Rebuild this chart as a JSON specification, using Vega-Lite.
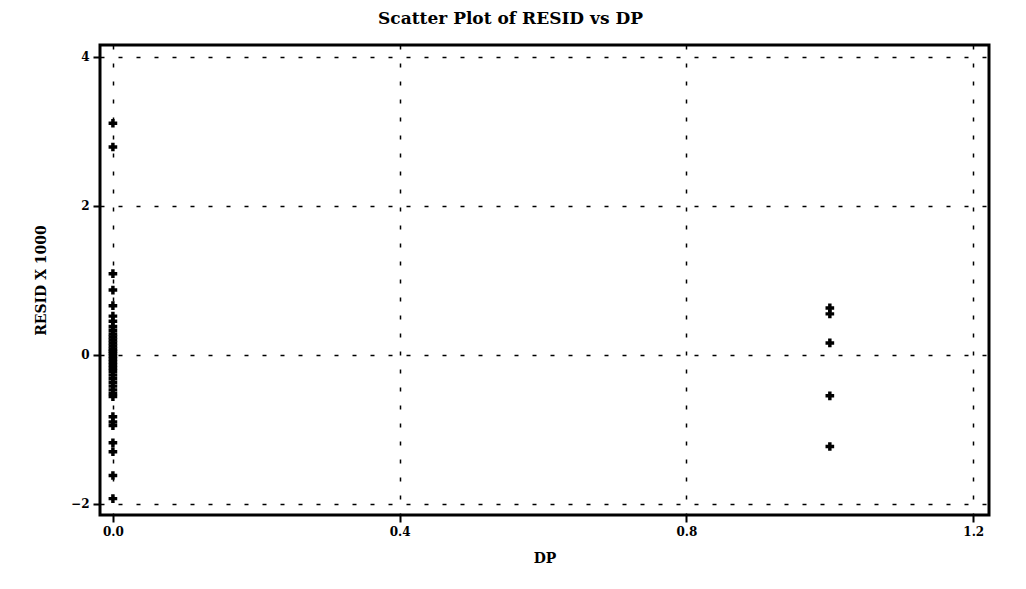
{
  "$schema": "https://vega.github.io/schema/vega-lite/v6.json",
  "width": 889,
  "height": 470,
  "autosize": {"type": "none"},
  "padding": {"left": 100, "top": 45, "right": 37, "bottom": 74},
  "background": "white",
  "title": {
    "text": "Scatter Plot of RESID vs DP",
    "font": "DejaVu Serif",
    "fontSize": 17,
    "fontWeight": "bold",
    "color": "black",
    "anchor": "middle",
    "dx": -34,
    "offset": 17
  },
  "data": {
    "values": [
      {"DP": 0, "RESID": 3.11},
      {"DP": 0, "RESID": 2.79},
      {"DP": 0, "RESID": 1.09},
      {"DP": 0, "RESID": 0.87},
      {"DP": 0, "RESID": 0.66},
      {"DP": 0, "RESID": 0.52},
      {"DP": 0, "RESID": 0.45},
      {"DP": 0, "RESID": 0.38},
      {"DP": 0, "RESID": 0.33},
      {"DP": 0, "RESID": 0.28},
      {"DP": 0, "RESID": 0.24},
      {"DP": 0, "RESID": 0.2},
      {"DP": 0, "RESID": 0.16},
      {"DP": 0, "RESID": 0.12},
      {"DP": 0, "RESID": 0.08},
      {"DP": 0, "RESID": 0.05},
      {"DP": 0, "RESID": 0.02},
      {"DP": 0, "RESID": -0.02},
      {"DP": 0, "RESID": -0.06},
      {"DP": 0, "RESID": -0.1},
      {"DP": 0, "RESID": -0.14},
      {"DP": 0, "RESID": -0.18},
      {"DP": 0, "RESID": -0.22},
      {"DP": 0, "RESID": -0.27},
      {"DP": 0, "RESID": -0.32},
      {"DP": 0, "RESID": -0.37},
      {"DP": 0, "RESID": -0.42},
      {"DP": 0, "RESID": -0.47},
      {"DP": 0, "RESID": -0.52},
      {"DP": 0, "RESID": -0.56},
      {"DP": 0, "RESID": -0.83},
      {"DP": 0, "RESID": -0.9},
      {"DP": 0, "RESID": -0.95},
      {"DP": 0, "RESID": -1.18},
      {"DP": 0, "RESID": -1.3},
      {"DP": 0, "RESID": -1.62},
      {"DP": 0, "RESID": -1.93},
      {"DP": 1, "RESID": 0.63},
      {"DP": 1, "RESID": 0.55},
      {"DP": 1, "RESID": 0.16},
      {"DP": 1, "RESID": -0.55},
      {"DP": 1, "RESID": -1.23}
    ]
  },
  "mark": {"type": "point", "shape": "cross", "filled": true, "color": "black", "size": 75, "opacity": 1},
  "encoding": {
    "x": {
      "field": "DP",
      "type": "quantitative",
      "scale": {"domain": [-0.018, 1.222], "nice": false, "zero": false},
      "axis": {
        "title": "DP",
        "values": [0, 0.4, 0.8, 1.2],
        "format": ".1f",
        "titlePadding": 14
      }
    },
    "y": {
      "field": "RESID",
      "type": "quantitative",
      "scale": {"domain": [-2.15, 4.16], "nice": false, "zero": false},
      "axis": {
        "title": "RESID X 1000",
        "values": [-2, 0, 2, 4],
        "format": "d",
        "titlePadding": 22
      }
    }
  },
  "config": {
    "view": {"stroke": "black", "strokeWidth": 3},
    "axis": {
      "domain": false,
      "grid": true,
      "gridColor": "black",
      "gridDash": [4, 14],
      "gridWidth": 1.5,
      "gridOpacity": 1,
      "tickColor": "black",
      "tickWidth": 2,
      "tickSize": 7,
      "labelFont": "DejaVu Serif",
      "labelFontSize": 12,
      "labelFontWeight": "bold",
      "labelColor": "black",
      "labelPadding": 4,
      "titleFont": "DejaVu Serif",
      "titleFontSize": 14,
      "titleFontWeight": "bold",
      "titleColor": "black"
    }
  }
}
